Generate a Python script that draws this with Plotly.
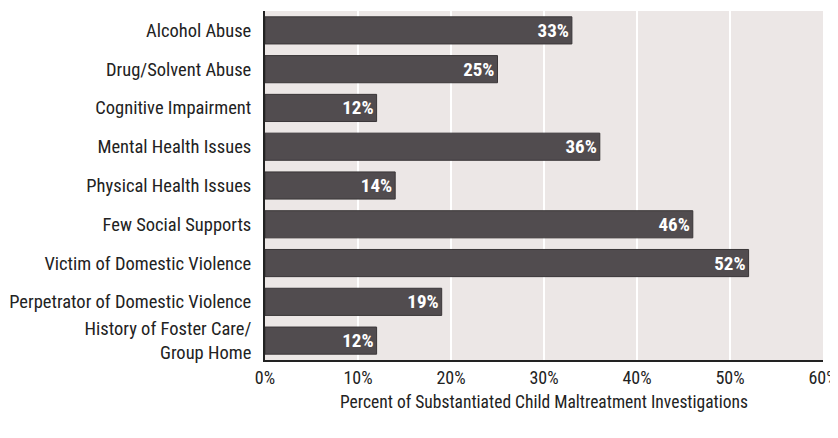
import plotly.graph_objects as go

categories = [
    "Alcohol Abuse",
    "Drug/Solvent Abuse",
    "Cognitive Impairment",
    "Mental Health Issues",
    "Physical Health Issues",
    "Few Social Supports",
    "Victim of Domestic Violence",
    "Perpetrator of Domestic Violence",
    "History of Foster Care/<br>Group Home",
]
values = [33, 25, 12, 36, 14, 46, 52, 19, 12]
tick_vals = [0, 10, 20, 30, 40, 50, 60]
tick_text = ["0%", "10%", "20%", "30%", "40%", "50%", "60%"]

FONT = "Roboto Condensed, sans-serif"

fig = go.Figure(go.Bar(
    y=categories,
    x=values,
    orientation="h",
    marker=dict(color="#514c4f", line=dict(color="#3a3638", width=1)),
    text=[f"<b>{v}%</b>" for v in values],
    textposition="inside",
    insidetextanchor="end",
    constraintext="none",
    textfont=dict(color="white", size=19, family=FONT),
    hoverinfo="skip",
))

fig.update_layout(
    width=838, height=438,
    margin=dict(l=257, r=23, t=2.5, b=85.5),
    paper_bgcolor="white",
    plot_bgcolor="#ece7e6",
    bargap=0.3,
    showlegend=False,
    font=dict(family=FONT, size=17.5, color="#222"),
)
fig.update_xaxes(
    range=[0, 60],
    tickvals=tick_vals,
    ticktext=tick_text,
    showgrid=True, gridcolor="white", gridwidth=2,
    showline=True, linecolor="#222", linewidth=2,
    zeroline=False,
    ticks="",
    tickfont=dict(size=18, family=FONT),
    title=dict(text="Percent of Substantiated Child Maltreatment Investigations",
               font=dict(size=17.5, family=FONT), standoff=9),
    automargin=False,
)
fig.update_yaxes(
    autorange="reversed",
    showline=True, linecolor="#222", linewidth=2,
    showgrid=False,
    ticks="",
    ticklabelstandoff=8,
    tickfont=dict(size=18.5, family=FONT),
    automargin=False,
)

fig.write_html("out.html")
